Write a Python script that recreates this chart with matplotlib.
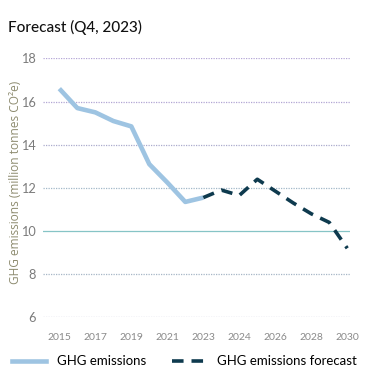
import matplotlib
matplotlib.use("Agg")
import matplotlib.pyplot as plt
from matplotlib.lines import Line2D

# Categories (17 points, 2023 appears twice: actual and forecast start)
years = ['2015', '2016', '2017', '2018', '2019', '2020', '2021', '2022', '2023',
         '2023', '2024', '2025', '2026', '2027', '2028', '2029', '2030']

# GHG emissions, million tonnes CO2e
actual = [16.6, 15.7, 15.5, 15.1, 14.85, 13.1, 12.25, 11.35, 11.55]
forecast = [11.55, 11.9, 11.65, 12.4, 11.85, 11.3, 10.8, 10.4, 9.2]

yticks = [6, 8, 10, 12, 14, 16, 18]
grid_colors = ['#a9a9c6', '#a6b6c6', '#86c4c6', '#a2b8c8', '#aaaacc', '#b2a6d4', '#b4a6d6']

plt.rcParams['font.family'] = ['Lato', 'DejaVu Sans']

fig = plt.figure(figsize=(3.85, 3.87), dpi=100)
ax = fig.add_axes([0.112, 0.180, 0.797, 0.669])

x_act = list(range(len(actual)))
x_fc = list(range(len(actual) - 1, len(years)))

# grid lines
for v, c in zip(yticks, grid_colors):
    ls = '-' if v == 10 else (0, (1, 1))
    ax.axhline(v, color=c, lw=0.9, ls=ls, zorder=0)

ax.plot(x_act, actual, color='#9ec4e2', lw=3.3, solid_capstyle='butt',
        solid_joinstyle='round', zorder=3)
ax.plot(x_fc, forecast, color='#0e3a4e', lw=2.6, ls=(0, (3.2, 2.2)),
        dash_capstyle='butt', zorder=3)

ax.set_ylim(6, 18)
ax.set_xlim(-0.9, 16.15)
ax.set_yticks(yticks)
ax.set_yticklabels([str(v) for v in yticks], fontsize=9.2, color='#7b7b7b')

tick_idx = [0, 2, 4, 6, 8, 10, 12, 14, 16]
ax.set_xticks(tick_idx)
ax.set_xticklabels([years[i] for i in tick_idx], fontsize=7.5, color='#8a8a8a')
ax.tick_params(axis='both', length=0)
ax.tick_params(axis='x', pad=11)
ax.tick_params(axis='y', pad=5)

for s in ax.spines.values():
    s.set_visible(False)

ax.set_ylabel('GHG emissions (million tonnes CO²e)', fontsize=8.6,
              color='#8d8b6f', family=['Open Sans', 'DejaVu Sans'])
ax.yaxis.set_label_coords(-0.07, 0.52)

fig.text(0.02, 0.928, 'Forecast (Q4, 2023)', fontsize=11, color='#111111',
         fontweight='medium', va='center')

handles = [Line2D([0], [0], color='#9ec4e2', lw=3.3),
           Line2D([0], [0], color='#0e3a4e', lw=2.6, ls=(0, (3.2, 2.2)))]
fig.legend(handles, ['GHG emissions', 'GHG emissions forecast'],
           loc='lower left', bbox_to_anchor=(0.0, 0.02), ncol=2, frameon=False,
           fontsize=9.5, handlelength=2.6, columnspacing=2.0)

fig.savefig('out.png', dpi=100)
